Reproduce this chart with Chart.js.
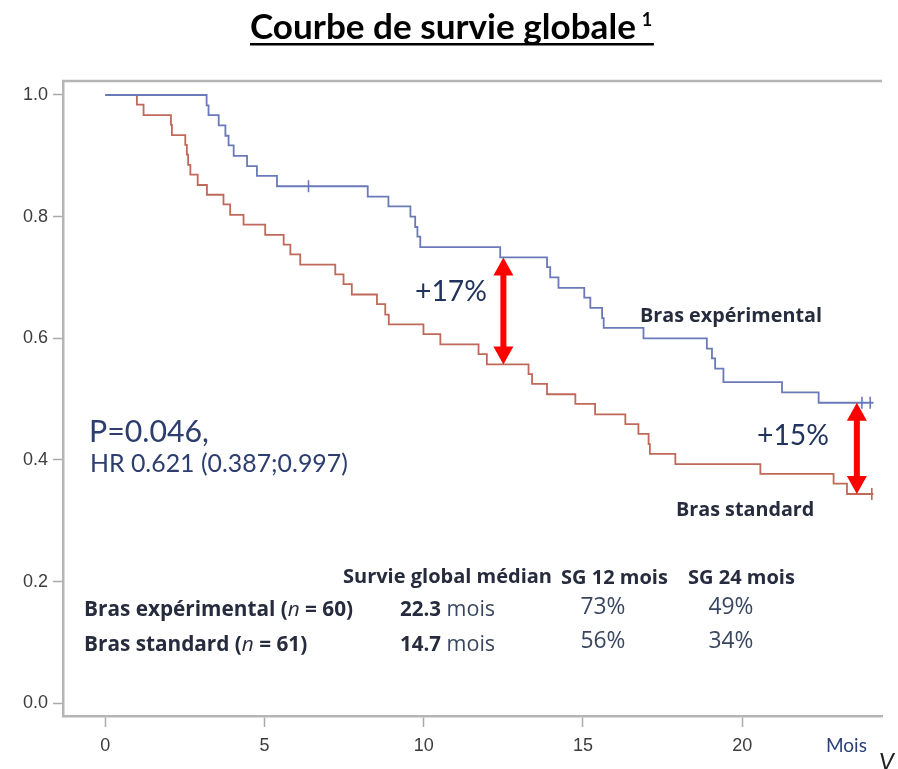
<!DOCTYPE html>
<html>
<head>
<meta charset="utf-8">
<script src="https://cdn.jsdelivr.net/npm/chart.js@4.4.1/dist/chart.umd.min.js"></script>
<style>
html, body { margin: 0; padding: 0; background: #fff; overflow: hidden; }
canvas { display: block; }
</style>
</head>
<body>
<canvas id="myCanvas" width="898" height="769"></canvas>
<script>
// Kaplan-Meier steps (months, survival)
const expTimes = [0, 3.18, 3.24, 3.56, 3.77, 3.87, 4.03, 4.45, 4.76, 5.39, 8.24, 8.89, 9.58, 9.73, 9.8, 9.89,
    12.4, 13.87, 13.97, 14.23, 15.04, 15.23, 15.6, 15.65, 16.9, 18.89, 19.05, 19.15, 19.41, 21.25, 22.4, 24.12];
const expSurv = [1, 0.983, 0.967, 0.95, 0.933, 0.917, 0.9, 0.883, 0.867, 0.85, 0.833, 0.817, 0.8, 0.783, 0.767, 0.75,
    0.733, 0.717, 0.7, 0.683, 0.667, 0.65, 0.633, 0.617, 0.6, 0.583, 0.567, 0.55, 0.528, 0.511, 0.494, 0.494];
const expCensorTimes = [6.38, 23.76, 24.02];
const expCensorSurv = [0.85, 0.494, 0.494];

const stdTimes = [0, 0.99, 1.2, 2.06, 2.09, 2.51, 2.56, 2.6, 2.67, 2.9, 3.19, 3.71, 3.92, 4.34, 5.02, 5.6, 5.81, 6.12,
    7.22, 7.48, 7.74, 8.53, 8.79, 8.9, 9.99, 10.52, 11.72, 11.98, 13.29, 13.4, 13.87, 14.76, 15.38, 16.33, 16.74,
    17.06, 17.1, 17.9, 20.57, 22.87, 23.29, 24.12];
const stdSurv = [1, 0.984, 0.967, 0.951, 0.934, 0.918, 0.902, 0.885, 0.869, 0.852, 0.836, 0.82, 0.803, 0.787, 0.77,
    0.754, 0.738, 0.721, 0.705, 0.689, 0.672, 0.656, 0.639, 0.623, 0.607, 0.59, 0.574, 0.557, 0.541, 0.525, 0.508,
    0.492, 0.475, 0.459, 0.443, 0.426, 0.41, 0.393, 0.377, 0.361, 0.344, 0.344];
const stdCensorTimes = [24.07];
const stdCensorSurv = [0.344];

const xTicks = [0, 5, 10, 15, 20];
const yTicks = [0, 0.2, 0.4, 0.6, 0.8, 1.0];

// difference arrows: month, upper value, lower value, label
const arrowMonths = [12.5, 23.6];
const arrowTop = [0.733, 0.494];
const arrowBottom = [0.557, 0.344];
const arrowLabels = ["+17%", "+15%"];

// summary table
const armNames = ["Bras expérimental", "Bras standard"];
const armN = [60, 61];
const medians = ["22.3", "14.7"];
const sg12 = ["73%", "56%"];
const sg24 = ["49%", "34%"];

const blue = "#6a7ab8";
const red = "#c0695a";
const navy = "#22335e";
const dark = "#262b3d";

function pts(xs, ys) {
    return xs.map((x, i) => ({ x: x, y: ys[i] }));
}

// font size that makes text about `width` px wide
function fitSize(c, text, style, family, width) {
    c.font = style + " 20px " + family;
    return 20 * width / c.measureText(text).width;
}

const extras = {
    id: "extras",
    afterDraw(chart) {
        const c = chart.ctx;
        const a = chart.chartArea;
        const xs = chart.scales.x;
        const ys = chart.scales.y;
        c.save();

        // top frame line
        c.strokeStyle = "#b5b5b5";
        c.lineWidth = 2.5;
        c.beginPath();
        c.moveTo(a.left - 1, a.top);
        c.lineTo(a.right, a.top);
        c.stroke();

        // title
        c.fillStyle = "#000";
        c.textBaseline = "alphabetic";
        c.textAlign = "left";
        const title = "Courbe de survie globale";
        const ts = fitSize(c, title, "bold", "Lato", 386);
        c.font = "bold " + ts + "px Lato";
        const tw = c.measureText(title).width;
        const tx = 250;
        c.fillText(title, tx, 39);
        c.font = "bold 18px Lato";
        c.fillText("1", tx + tw + 6, 26);
        c.fillRect(tx, 43, tw + 18, 2.5);

        // arrows
        c.fillStyle = "#ff0000";
        arrowMonths.forEach((m, i) => {
            const px = xs.getPixelForValue(m);
            const y1 = ys.getPixelForValue(arrowTop[i]);
            const y2 = ys.getPixelForValue(arrowBottom[i]);
            const hl = 18, hw = 10;
            c.fillRect(px - 3, y1 + hl - 1, 6, y2 - y1 - 2 * hl + 2);
            c.beginPath();
            c.moveTo(px, y1);
            c.lineTo(px + hw, y1 + hl);
            c.lineTo(px - hw, y1 + hl);
            c.closePath();
            c.fill();
            c.beginPath();
            c.moveTo(px, y2);
            c.lineTo(px + hw, y2 - hl);
            c.lineTo(px - hw, y2 - hl);
            c.closePath();
            c.fill();
        });

        c.textBaseline = "middle";
        c.fillStyle = navy;
        c.textAlign = "center";
        c.font = fitSize(c, arrowLabels[0], "", "Lato", 72) + "px Lato";
        c.fillText(arrowLabels[0], 451, 292);
        c.fillText(arrowLabels[1], 793, 436);

        c.textAlign = "left";
        c.fillStyle = "#2c3d6e";
        c.font = fitSize(c, "P=0.046,", "", "Lato", 120) + "px Lato";
        c.fillText("P=0.046,", 89, 432);
        c.font = fitSize(c, "HR 0.621 (0.387;0.997)", "", "Lato", 258) + "px Lato";
        c.fillText("HR 0.621 (0.387;0.997)", 90, 464);

        const fam = "'Open Sans'";
        c.fillStyle = dark;
        const ls = fitSize(c, "Bras expérimental", "bold", fam, 182);
        c.font = "bold " + ls + "px " + fam;
        c.fillText(armNames[0], 640, 316);
        c.fillText(armNames[1], 676, 510);

        // table
        const hs = fitSize(c, "Survie global médian", "bold", fam, 209);
        c.font = "bold " + hs + "px " + fam;
        c.fillText("Survie global médian", 343, 577);
        c.fillText("SG 12 mois", 561, 578);
        c.fillText("SG 24 mois", 688, 578);

        const rs = fitSize(c, "Bras expérimental (n = 60)", "bold", fam, 271);
        const rowY = [610, 645];
        const pctY = [607, 641];
        armNames.forEach((name, i) => {
            const y = rowY[i];
            let x = 84;
            c.fillStyle = dark;
            c.font = "bold " + rs + "px " + fam;
            c.fillText(name + " (", x, y);
            x += c.measureText(name + " (").width;
            c.font = "italic " + rs + "px " + fam;
            c.fillText("n", x, y);
            x += c.measureText("n").width;
            c.font = "bold " + rs + "px " + fam;
            c.fillText(" = " + armN[i] + ")", x, y);

            c.font = "bold " + (hs + 0.5) + "px " + fam;
            c.fillText(medians[i], 400, y);
            const w = c.measureText(medians[i]).width;
            c.font = (hs + 1.5) + "px " + fam;
            c.fillStyle = "#3a4660";
            c.fillText(" mois", 400 + w, y);

            c.textAlign = "center";
            c.font = fitSize(c, "73%", "", fam, 45) + "px " + fam;
            c.fillText(sg12[i], 603, pctY[i]);
            c.fillText(sg24[i], 731, pctY[i]);
            c.textAlign = "left";
        });

        // axis unit
        c.fillStyle = "#2a3f7a";
        c.font = "19px Lato";
        c.fillText("Mois", 826, 746);
        c.fillStyle = "#222";
        c.font = "italic 24px Lato";
        c.fillText("V", 879, 762);

        c.restore();
    }
};

const tickFont = { family: "'Liberation Sans Narrow', 'Liberation Sans'", size: 18 };

new Chart(document.getElementById("myCanvas"), {
    type: "line",
    data: {
        datasets: [
            {
                data: pts(expTimes, expSurv),
                borderColor: blue,
                borderWidth: 1.8,
                stepped: true,
                pointRadius: 0,
                fill: false
            },
            {
                data: pts(stdTimes, stdSurv),
                borderColor: red,
                borderWidth: 1.8,
                stepped: true,
                pointRadius: 0,
                fill: false
            },
            {
                data: pts(expCensorTimes, expCensorSurv),
                showLine: false,
                pointStyle: "line",
                rotation: 90,
                pointRadius: 6,
                borderColor: blue,
                borderWidth: 1.6
            },
            {
                data: pts(stdCensorTimes, stdCensorSurv),
                showLine: false,
                pointStyle: "line",
                rotation: 90,
                pointRadius: 6,
                borderColor: red,
                borderWidth: 1.6
            }
        ]
    },
    options: {
        responsive: false,
        animation: false,
        layout: {
            padding: { top: 81, left: 0, right: 16, bottom: 0 }
        },
        scales: {
            x: {
                type: "linear",
                min: -1.33,
                max: 24.39,
                afterBuildTicks: (s) => { s.ticks = xTicks.map(v => ({ value: v })); },
                afterFit: (s) => { s.height = 53; },
                grid: { drawOnChartArea: false, tickLength: 11, color: "#aaa", tickWidth: 1.5 },
                border: { color: "#b5b5b5", width: 2.5 },
                ticks: { font: tickFont, color: "#3c3c3c", padding: 8, maxRotation: 0 }
            },
            y: {
                min: -0.021,
                max: 1.023,
                afterBuildTicks: (s) => { s.ticks = yTicks.map(v => ({ value: v })); },
                afterFit: (s) => { s.width = 63; },
                grid: { drawOnChartArea: false, tickLength: 10, color: "#aaa", tickWidth: 1.5 },
                border: { color: "#b5b5b5", width: 2.5 },
                ticks: { font: tickFont, color: "#3c3c3c", padding: 5, callback: (v) => v.toFixed(1) }
            }
        },
        plugins: {
            legend: { display: false },
            tooltip: { enabled: false },
            title: { display: false }
        }
    },
    plugins: [extras]
});
</script>
</body>
</html>
